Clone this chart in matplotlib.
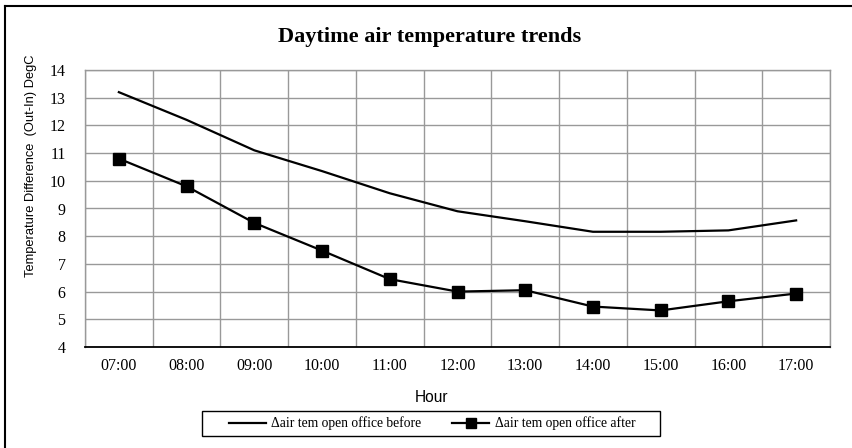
import matplotlib
matplotlib.use("Agg")
import matplotlib.pyplot as plt
from matplotlib.lines import Line2D
from matplotlib.patches import Rectangle

hours = ["07:00", "08:00", "09:00", "10:00", "11:00", "12:00",
         "13:00", "14:00", "15:00", "16:00", "17:00"]
before = [13.2, 12.2, 11.1, 10.35, 9.55, 8.9, 8.54, 8.16, 8.16, 8.21, 8.57]
after = [10.8, 9.8, 8.48, 7.48, 6.45, 6.0, 6.05, 5.46, 5.32, 5.65, 5.93]
yticks = list(range(4, 15))

serif = ["Liberation Serif", "DejaVu Serif"]
sans = ["Liberation Sans", "DejaVu Sans"]

W, H = 852, 448
fig = plt.figure(figsize=(W / 100, H / 100), dpi=100)
ax = fig.add_axes([85 / W, 1 - 347 / H, (830 - 85) / W, (347 - 70) / H])

x = list(range(len(hours)))
ax.plot(x, before, color="black", lw=1.6, label="\u0394air tem open office before")
ax.plot(x, after, color="black", lw=1.6, marker="s", markersize=8.5,
        label="\u0394air tem open office after")

ax.set_xlim(-0.5, len(hours) - 0.5)
ax.set_ylim(4, 14)
ax.set_yticks(yticks)
ax.set_yticklabels([str(v) for v in yticks], fontfamily=serif, fontsize=11.5)
ax.set_xticks(x)
ax.set_xticklabels(hours, fontfamily=serif, fontsize=11.5)
ax.set_xticks([i - 0.5 for i in range(len(hours) + 1)], minor=True)
ax.tick_params(axis="both", which="both", length=0)
ax.tick_params(axis="y", pad=14)
ax.tick_params(axis="x", pad=8)
ax.grid(True, which="major", axis="y", color="#999999", lw=1.0)
ax.grid(True, which="minor", axis="x", color="#999999", lw=1.0)
ax.set_axisbelow(True)
for s in ["top", "right", "left"]:
    ax.spines[s].set_color("#999999")
    ax.spines[s].set_linewidth(1.0)
ax.spines["bottom"].set_color("black")
ax.spines["bottom"].set_linewidth(1.3)

fig.text(31 / W, 1 - 166 / H, "Temperature Difference  (Out-In) DegC", rotation=90,
         ha="center", va="center", fontfamily=sans, fontsize=9.3)
fig.text(432 / W, 1 - 397 / H, "Hour", ha="center", va="center",
         fontfamily=sans, fontsize=11.2)

fig.text(430 / W, 1 - 37 / H, "Daytime air temperature trends", ha="center", va="center",
         fontfamily=serif, fontsize=16, fontweight="bold")

leg = fig.legend(loc="center", bbox_to_anchor=(432 / W, 1 - 423.5 / H), ncol=2,
                 prop={"family": serif, "size": 9.8}, frameon=False,
                 handlelength=2.7, handletextpad=0.4, columnspacing=2.3,
                 markerscale=0.85)

fig.add_artist(Rectangle((202 / W, 1 - 436 / H), (660 - 202) / W, 25 / H,
                         transform=fig.transFigure, fill=False, edgecolor="black", lw=1.0))

fig.add_artist(Line2D([5 / W, 5 / W], [0, 1 - 6 / H], color="black", lw=1.5, transform=fig.transFigure))
fig.add_artist(Line2D([5 / W, 1], [1 - 6 / H, 1 - 6 / H], color="black", lw=1.5, transform=fig.transFigure))

fig.savefig("out.png", dpi=100)
